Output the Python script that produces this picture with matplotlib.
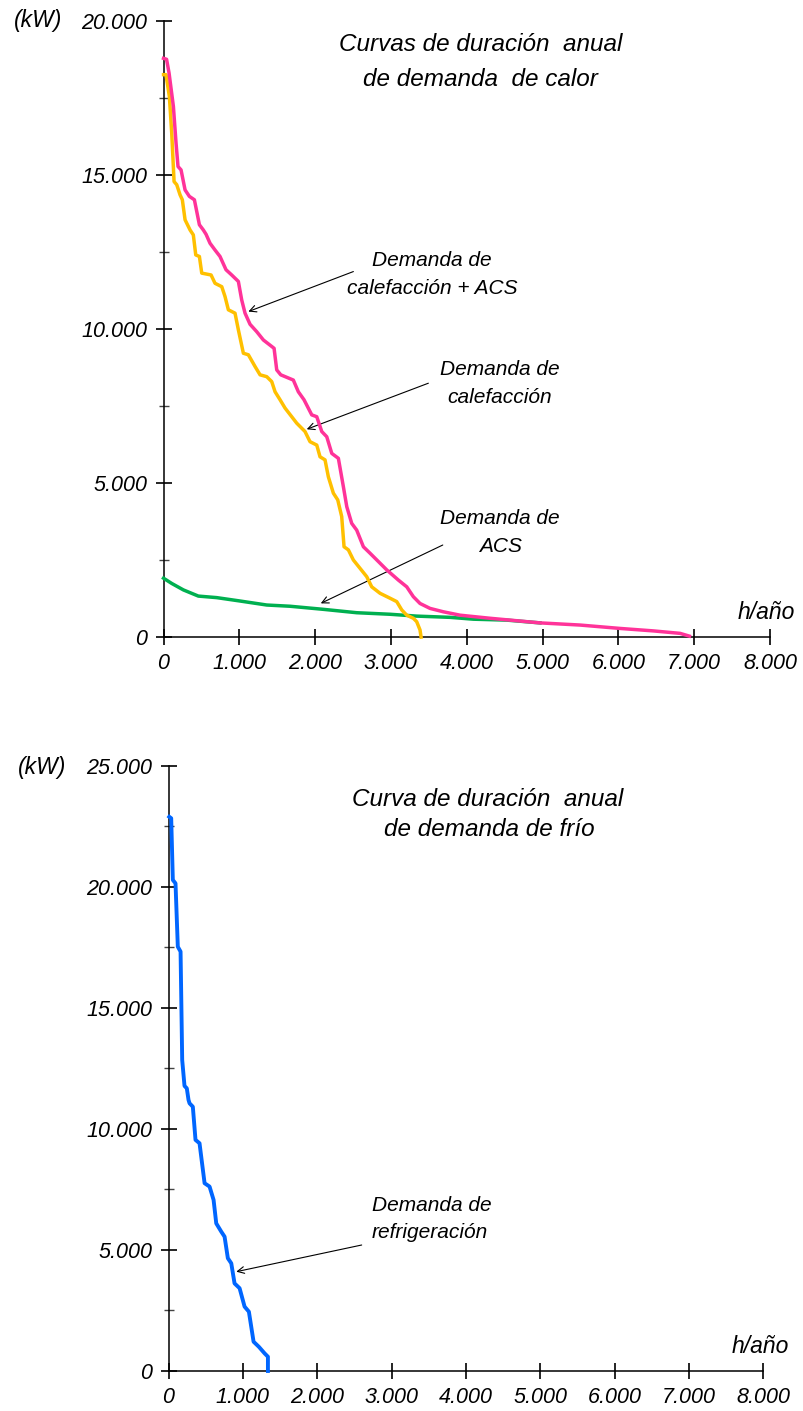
import matplotlib
matplotlib.use('Agg')
import matplotlib.pyplot as plt
from matplotlib.ticker import MultipleLocator

plt.rcParams['font.family'] = ['Liberation Sans', 'DejaVu Sans']
plt.rcParams['font.style'] = 'italic'

# --- heat demand duration curves (h/año, kW) ---
total_h = [0, 40, 73, 130, 165, 191, 231, 284, 341, 407, 473, 525, 561, 613, 679, 745,
           824, 899, 987, 1031, 1075, 1141, 1229, 1317, 1427, 1458, 1493, 1546, 1712,
           1778, 1853, 1955, 2021, 2087, 2153, 2219, 2306, 2372, 2417, 2482, 2548, 2636,
           2724, 2834, 2944, 3097, 3208, 3295, 3383, 3515, 3691, 3911, 4307, 4966, 5494,
           6022, 6461, 6813, 6936]
total_kw = [18780, 18750, 18300, 17220, 16030, 15270, 15160, 14510, 14300, 14190, 13380,
            13210, 13070, 12780, 12560, 12350, 11920, 11750, 11540, 10940, 10510, 10150,
            9910, 9640, 9430, 9370, 8670, 8510, 8340, 7960, 7700, 7210, 7150, 6670, 6500,
            5960, 5800, 4880, 4230, 3690, 3470, 2930, 2720, 2450, 2180, 1850, 1630, 1310,
            1090, 930, 820, 710, 610, 460, 390, 280, 200, 120, 30]

calef_h = [0, 33, 77, 108, 139, 174, 218, 248, 284, 350, 393, 425, 473, 504, 627, 679,
           768, 811, 855, 943, 987, 1053, 1119, 1207, 1273, 1361, 1427, 1471, 1537, 1603,
           1691, 1757, 1866, 1932, 2021, 2064, 2130, 2174, 2240, 2298, 2350, 2381, 2438,
           2504, 2592, 2680, 2746, 2856, 2988, 3076, 3142, 3208, 3295, 3339, 3383, 3397]
calef_kw = [18250, 18250, 17540, 16350, 14780, 14680, 14350, 14190, 13540, 13210, 13050,
            12400, 12350, 11810, 11750, 11480, 11370, 11050, 10620, 10510, 9970, 9210,
            9160, 8780, 8510, 8450, 8290, 7960, 7700, 7430, 7150, 6940, 6670, 6340, 6230,
            5850, 5750, 5200, 4670, 4450, 3910, 2930, 2830, 2500, 2230, 1960, 1630, 1420,
            1260, 1150, 880, 710, 610, 500, 230, 0]

acs_h = [0, 108, 262, 459, 701, 1009, 1361, 1669, 2108, 2548, 2988, 3339, 3779, 4087,
         4527, 4966]
acs_kw = [1910, 1740, 1530, 1330, 1280, 1170, 1040, 1000, 900, 790, 740, 680, 640, 580,
          550, 460]

# --- cooling demand duration curve ---
frio_h = [10, 36, 58, 94, 125, 162, 184, 215, 246, 269, 283, 327, 363, 417, 485, 552,
          606, 642, 709, 754, 798, 844, 888, 956, 1023, 1081, 1144, 1215, 1292, 1337, 1337]
frio_kw = [22900, 22840, 20290, 20150, 17530, 17330, 12850, 11780, 11680, 11200, 11060,
           10920, 9550, 9410, 7760, 7620, 7070, 6100, 5760, 5550, 4660, 4450, 3620, 3420,
           2660, 2450, 1210, 1000, 730, 590, 0]

x_ticks = [0, 1000, 2000, 3000, 4000, 5000, 6000, 7000, 8000]
x_labels = ['0', '1.000', '2.000', '3.000', '4.000', '5.000', '6.000', '7.000', '8.000']
y1_ticks = [0, 5000, 10000, 15000, 20000]
y1_labels = ['0', '5.000', '10.000', '15.000', '20.000']
y2_ticks = [0, 5000, 10000, 15000, 20000, 25000]
y2_labels = ['0', '5.000', '10.000', '15.000', '20.000', '25.000']

PINK = '#ff3399'
YELLOW = '#ffc000'
GREEN = '#00b050'
BLUE = '#0066ff'
LW = 2.5
TICK_FS = 15.5
UNIT_FS = 16.5
NOTE_FS = 15
TITLE_FS = 17.5

fig = plt.figure(figsize=(8.04, 14.11), dpi=100)
ax1 = fig.add_axes([0.2034, 0.5485, 0.7544, 0.4368])
ax2 = fig.add_axes([0.2096, 0.02835, 0.7398, 0.4288])


def style_axes(ax, ymax, yticks, ylabels):
    ax.set_xlim(0, 8000)
    ax.set_ylim(0, ymax)
    for s in ['top', 'right']:
        ax.spines[s].set_visible(False)
    for s in ['left', 'bottom']:
        ax.spines[s].set_linewidth(1.1)
    ax.set_xticks(x_ticks)
    ax.set_xticklabels(x_labels)
    ax.set_yticks(yticks)
    ax.set_yticklabels(ylabels)
    ax.yaxis.set_minor_locator(MultipleLocator(2500))
    ax.tick_params(axis='both', which='major', direction='inout', length=11,
                   width=1.2, labelsize=TICK_FS)
    ax.tick_params(axis='y', which='minor', direction='inout', length=7, width=1.0,
                   color='#444444')
    ax.tick_params(axis='x', pad=6)
    ax.tick_params(axis='y', pad=6)
    for lab in ax.get_xticklabels() + ax.get_yticklabels():
        lab.set_fontstyle('italic')


arrow = dict(arrowstyle='->', color='black', lw=0.8, shrinkA=0, shrinkB=0,
             mutation_scale=12)

# top chart
style_axes(ax1, 20000, y1_ticks, y1_labels)
ax1.plot(acs_h, acs_kw, color=GREEN, lw=LW, clip_on=False, zorder=3)
ax1.plot(calef_h, calef_kw, color=YELLOW, lw=LW, clip_on=False, zorder=4)
ax1.plot(total_h, total_kw, color=PINK, lw=LW, clip_on=False, zorder=5)

ax1.text(4180, 19222, 'Curvas de duración  anual', fontsize=TITLE_FS, ha='center', va='center')
ax1.text(4180, 18086, 'de demanda  de calor', fontsize=TITLE_FS, ha='center', va='center')

ax1.text(3542, 12220, 'Demanda de', fontsize=NOTE_FS, ha='center', va='center')
ax1.text(3542, 11300, 'calefacción + ACS', fontsize=NOTE_FS, ha='center', va='center')
ax1.annotate('', xy=(1119, 10563), xytext=(2504, 11861), arrowprops=arrow)

ax1.text(4439, 8670, 'Demanda de', fontsize=NOTE_FS, ha='center', va='center')
ax1.text(4439, 7760, 'calefacción', fontsize=NOTE_FS, ha='center', va='center')
ax1.annotate('', xy=(1889, 6744), xytext=(3493, 8238), arrowprops=arrow)

ax1.text(4439, 3860, 'Demanda de', fontsize=NOTE_FS, ha='center', va='center')
ax1.text(4439, 2950, 'ACS', fontsize=NOTE_FS, ha='center', va='center')
ax1.annotate('', xy=(2074, 1094), xytext=(3683, 2987), arrowprops=arrow)

ax1.text(-0.207, 1.0, '(kW)', transform=ax1.transAxes, fontsize=UNIT_FS,
         ha='center', va='center')
ax1.text(0.9934, 0.0406, 'h/año', transform=ax1.transAxes, fontsize=UNIT_FS,
         ha='center', va='center')

# bottom chart
style_axes(ax2, 25000, y2_ticks, y2_labels)
ax2.plot(frio_h, frio_kw, color=BLUE, lw=LW + 0.3, clip_on=False, zorder=5)

ax2.text(4293, 23594, 'Curva de duración  anual', fontsize=TITLE_FS, ha='center', va='center')
ax2.text(4320, 22355, 'de demanda de frío', fontsize=TITLE_FS, ha='center', va='center')

ax2.text(3540, 6859, 'Demanda de', fontsize=NOTE_FS, ha='center', va='center')
ax2.text(3513, 5743, 'refrigeración', fontsize=NOTE_FS, ha='center', va='center')
ax2.annotate('', xy=(911, 4103), xytext=(2598, 5206), arrowprops=arrow)

ax2.text(-0.2127, 0.998, '(kW)', transform=ax2.transAxes, fontsize=UNIT_FS,
         ha='center', va='center')
ax2.text(0.9945, 0.0397, 'h/año', transform=ax2.transAxes, fontsize=UNIT_FS,
         ha='center', va='center')

fig.savefig('out.png', dpi=100, facecolor='white')
